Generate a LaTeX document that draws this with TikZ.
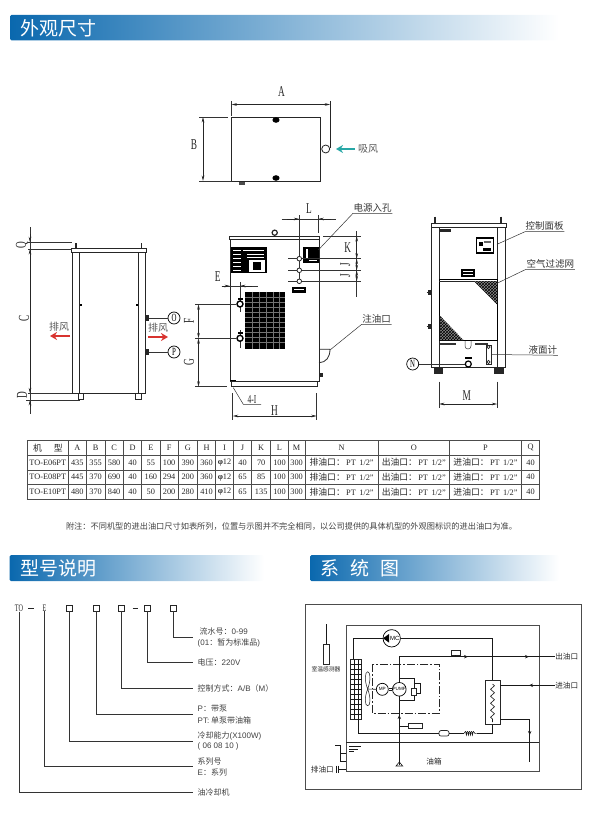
\documentclass[tikz,border=0pt]{standalone}
\usepackage{fontspec}
\setmainfont{Liberation Serif}
\newfontfamily\cjk{Noto Sans CJK SC}
\newfontfamily\lat{Liberation Sans}
\newfontfamily\dimfont[FakeStretch=0.62]{Liberation Serif}
\usetikzlibrary{shapes,arrows,arrows.meta,positioning,patterns,decorations.pathmorphing}
\definecolor{bannerblue}{HTML}{0A68AE}
\definecolor{bannermid}{HTML}{7CA3D3}
\definecolor{airred}{HTML}{D8332F}
\definecolor{airteal}{HTML}{27A7A6}
\newcommand{\cjksize}[1]{\cjk\fontsize{#1}{#1}\selectfont}
\newcommand{\portcell}[1]{{\cjksize{8.8}#1油口：}\,PT\hspace{3.5pt}1/2"}
\tikzset{%
part/.style={draw=black!85, line width=.8pt},
thickpart/.style={draw=black, line width=1.2pt},
dimthin/.style={draw=black!80, line width=.5pt},
dimline/.style={draw=black!85, line width=.6pt, <->, >={Stealth[length=5.5pt,width=2.6pt]}},
dimtip/.style={draw=black!85, line width=.6pt, ->, >={Stealth[length=5.5pt,width=2.6pt]}},
dimletter/.style={font=\dimfont\fontsize{15}{15}\selectfont, text=black!85, inner sep=0pt},
portmark/.style={circle, draw=black, line width=.7pt, minimum size=12pt, inner sep=0pt, font=\dimfont\fontsize{11}{11}\selectfont},
banner/.style={rounded corners=1.5pt, left color=bannerblue, middle color=bannermid, right color=white},
bannertext/.style={font=\cjksize{19}, text=white, anchor=west, inner sep=0pt},
callout/.style={font=\cjksize{9.5}, text=black!80, anchor=south west, inner xsep=.5pt, inner ysep=1pt},
wind/.style={font=\cjksize{10}, text=black!65, inner sep=0pt},
windarrow/.style={line width=2.4pt, ->, >={Stealth[length=7pt,width=8pt]}},
hatched/.style={preaction={fill=black!45}, pattern=crosshatch, pattern color=black},
tablerule/.style={draw=black!70, line width=1pt},
tablecell/.style={font=\fontsize{8.3}{9}\selectfont, text=black!85, inner sep=0pt},
codebox/.style={rectangle, draw=black!85, line width=.6pt, minimum size=6pt, inner sep=0pt},
codetext/.style={font=\dimfont\fontsize{10}{10}\selectfont, text=black!85, inner sep=0pt},
codeline/.style={draw=black!80, line width=.7pt},
codelabel/.style={font=\cjksize{8}, text=black!75, anchor=west, align=left, inner xsep=4.5pt, inner ysep=1pt},
pipe/.style={draw=black!90, line width=.6pt},
pipetip/.style={draw=black!90, line width=.6pt, ->, >={Stealth[length=4pt,width=3.4pt]}},
sysbox/.style={rectangle, draw=black!85, line width=.7pt, inner sep=0pt},
syscircle/.style={circle, draw=black, line width=.7pt, inner sep=0pt, fill=white, font=\lat\fontsize{4.6}{5}\selectfont},
syslabel/.style={font=\cjksize{7.6}, text=black!85, inner sep=0pt}
}

\begin{document}
\begin{tikzpicture}[x=1pt, y=-1pt]
	\useasboundingbox (0,0) rectangle (600,824);

	% section bars
	\shade[banner] (10,15) rectangle (559,40.5);
	\node[bannertext] (titleouter) at (20,28) {外观尺寸};
	\shade[banner] (9.5,555) rectangle (264,581);
	\node[bannertext] (titlecode) at (20,568) {型号说明};
	\shade[banner] (310,555) rectangle (559,581);
	\node[bannertext] (titlesystem) at (320,568) {系\hspace{11pt}统\hspace{11pt}图};

	% top view
	\draw[part] (231.5,117) rectangle (320.7,181);
	\fill (276,120) ellipse (3.6pt and 2.8pt);
	\fill (276,178) ellipse (3.6pt and 2.8pt);
	\fill[black!70] (239,182) rectangle (245,185);
	\draw[part] (325.7,149) circle (4pt);
	\draw[dimthin] (231.5,101) -- (231.5,116);
	\draw[part, line width=.6pt] (330.2,101) -- (330.2,148);
	\draw[dimline] (231.5,104.5) -- (330.2,104.5);
	\draw[dimthin] (199,117) -- (228,117);
	\draw[dimthin] (199,181) -- (231.5,181);
	\draw[dimline] (203,117) -- (203,181);
	\node[dimletter] (dimA) at (281.5,92) {A};
	\node[dimletter] (dimB) at (194,145) {B};
	\draw[windarrow, airteal] (355,149) -- (336,149);
	\node[wind] (windin) at (368,149) {吸风};

	% left view
	\draw[part] (72.7,251.7) rectangle (145.7,393.3);
	\draw[part, fill=white] (71.7,248.7) rectangle (146.5,252);
	\draw[part] (79.3,252) -- (79.3,393.3);
	\draw[part] (138.3,252) -- (138.3,393.3);
	\fill (80,304) rectangle (82,306);
	\fill (136,304) rectangle (138,306);
	\foreach \bx in {76,141.7}
		\draw[black!85, line width=1.4pt] (\bx,243) -- (\bx,248.7);
	\draw[part] (78.7,393.3) rectangle (83.5,399.5);
	\draw[part] (135,393.3) rectangle (141,399.5);
	\draw[dimthin] (30,227) -- (30,414);
	\draw[dimline] (30,249) -- (30,393.3);
	\draw[dimtip] (30,234) -- (30,242.3);
	\draw[dimtip] (30,407) -- (30,400);
	\draw[dimthin] (28,242.3) -- (72,242.3);
	\draw[dimthin] (28,249) -- (72,249);
	\draw[dimthin] (28,393.3) -- (72,393.3);
	\draw[dimthin] (26,400) -- (80,400);
	\node[dimletter, rotate=90] (dimQ) at (22,245) {Q};
	\node[dimletter, rotate=90] (dimC) at (24,318) {C};
	\node[dimletter, rotate=90] (dimD) at (22,395) {D};
	\node[wind] (windleft) at (59,327) {排风};
	\draw[windarrow, airred] (70,336) -- (50,336);
	\node[wind] (windright) at (158,328) {排风};
	\draw[windarrow, airred] (148,337) -- (168,337);
	\node[portmark] (portO) at (174,318) {O};
	\node[portmark] (portP) at (174,352) {P};
	\fill[black!85] (146,315) rectangle (149,320.5);
	\fill[black!85] (146,349) rectangle (149,354.5);
	\draw[dimthin] (149,318) -- (portO.west);
	\draw[dimthin] (149,352) -- (portP.west);

	% front view
	\draw[part, line width=1pt] (230,239) rectangle (319,381);
	\draw[part, fill=white] (229.7,236) rectangle (319.3,239.3);
	\draw[part, line width=.6pt] (231.7,381) rectangle (317.7,386.7);
	\draw[black, line width=1.4pt] (230,380.7) -- (236,380.7);
	\draw[part, line width=1.2pt] (274.7,232.7) circle (2.6pt);
	\fill[black] (231,247.3) rectangle (266.7,273.3);
	\foreach \ly in {250,254,258,262,266,270}
		\draw[white, line width=.7pt] (233,\ly) -- (241,\ly);
	\draw[white, line width=.7pt] (243,250) -- (264,250);
	\draw[white, line width=.7pt] (247,254) -- (264,254);
	\draw[white, line width=.7pt] (247,257) -- (264,257);
	\fill[white] (249,260) rectangle (265,272);
	\fill[black] (253,262) rectangle (261,270);
	\fill[black] (245,291.7) rectangle (285,349);
	\foreach \gx in {252,259,266,273,279}
		\draw[black!55, line width=.3pt] (\gx,291.7) -- (\gx,349);
	\foreach \gy in {297,302,307,312,317,322,327,332,337,342}
		\draw[black!55, line width=.3pt] (245,\gy) -- (285,\gy);
	\fill[black] (303.3,246.7) rectangle (319,263.3);
	\fill[white] (306,249) rectangle (308,259);
	\draw[white, line width=.4pt] (309,260) -- (317,260);
	\fill[black] (292.3,286.7) rectangle (306,293.3);
	\draw[white, line width=.4pt] (294,289.5) -- (304,289.5);
	\draw[dimthin] (299.3,215) -- (299.3,283);
	\foreach \hy in {258.7,270.3,281.3} {
		\draw[dimthin] (288,\hy) -- (361,\hy);
		\draw[part, fill=white] (299.3,\hy) circle (2.3pt);
	}
	\draw[dimthin] (323,236) -- (361,236);
	\draw[dimthin] (356.7,231) -- (356.7,296.7);
	\draw[dimline] (356.7,236) -- (356.7,258.7);
	\draw[dimline] (356.7,258.7) -- (356.7,270.3);
	\draw[dimline] (356.7,270.3) -- (356.7,281.3);
	\node[dimletter] (dimK) at (347.7,247.7) {K};
	\node[dimletter, rotate=90] (dimJa) at (345.3,264.5) {J};
	\node[dimletter, rotate=90] (dimJb) at (345.3,276) {J};
	\draw[dimthin] (318.3,215) -- (318.3,233);
	\draw[dimthin] (281.7,219) -- (336,219);
	\draw[dimtip] (287,219) -- (299.3,219);
	\draw[dimtip] (331,219) -- (318.3,219);
	\node[dimletter] (dimL) at (309,209) {L};
	\node[callout] (lblpower) at (353,213.3) {电源入孔};
	\coordinate (powerbox) at (318.3,250);
	\draw[dimthin] (powerbox) -- (lblpower.south west) -- (lblpower.south east);
	\foreach \py/\pa/\pb in {304/282/311.7, 338.3/330/348} {
		\draw[dimthin] (240,\pa) -- (240,\pb);
		\draw[black, line width=1.4pt, fill=white] (240,\py) circle (3pt);
		\fill[black] (237.5,\py-6) rectangle (242.5,\py-4);
	}
	\draw[dimthin] (221.7,286) -- (258.3,286);
	\draw[dimtip] (221.7,286) -- (230,286);
	\draw[dimtip] (252,286) -- (240,286);
	\node[dimletter] (dimE) at (217.7,277) {E};
	\draw[dimthin] (195,304.3) -- (236,304.3);
	\draw[dimthin] (195,338.3) -- (236,338.3);
	\draw[dimthin] (195,386.7) -- (226.6,386.7);
	\draw[dimline] (198.5,304.3) -- (198.5,338.3);
	\draw[dimline] (198.5,338.3) -- (198.5,386.7);
	\node[dimletter, rotate=90] (dimF) at (189,321) {F};
	\node[dimletter, rotate=90] (dimG) at (189,362) {G};
	\draw[part] (319,349.3) -- (330,349.3) .. controls (330,357) and (326,362.7) .. (319,362.7);
	\fill[black!85] (319,373) rectangle (323,377);
	\node[callout] (lblfill) at (361.7,324.3) {注油口};
	\coordinate (fillcap) at (330,350);
	\draw[dimthin] (fillcap) -- (lblfill.south west) -- (lblfill.south east);
	\draw[dimthin] (233.3,387.7) -- (243.3,404.3) -- (261,404.3);
	\node[dimletter, anchor=south, font=\dimfont\fontsize{12}{12}\selectfont] (dimI) at (252,403.5) {4-I};
	\draw[dimthin] (232.7,393) -- (232.7,420);
	\draw[dimthin] (316.7,393) -- (316.7,420);
	\draw[dimline] (232.7,416) -- (316.7,416);
	\node[dimletter] (dimH) at (274.5,411) {H};

	% rear view
	\draw[part] (431.7,227.3) rectangle (505,367.7);
	\draw[part, fill=white] (431,223.3) rectangle (506,227.3);
	\draw[part] (439,227.3) -- (439,367.7);
	\draw[part] (497.3,227.3) -- (497.3,367.7);
	\foreach \bx in {435,501}
		\draw[black!85, line width=1.4pt] (\bx,216.5) -- (\bx,223.3);
	\fill[black!85] (434.3,368) rectangle (443.3,374);
	\fill[black!85] (494,368) rectangle (503.7,374);
	\fill[black!85] (440,228.5) rectangle (451,232);
	\draw[thickpart] (476.5,238) rectangle (493.7,253);
	\fill[black] (479,242) rectangle (483,246);
	\fill[black!60] (484,241) rectangle (491,243);
	\fill[black] (483,248) rectangle (491,250.5);
	\node[callout] (lblpanel) at (525,231.7) {控制面板};
	\coordinate (panelside) at (497,244.3);
	\draw[dimthin] (panelside) -- (lblpanel.south west) -- (lblpanel.south east);
	\fill[black] (461,269.3) rectangle (475,276.7);
	\draw[white, line width=.5pt] (463,271) -- (473,271) (463,274.5) -- (473,274.5);
	\draw[thickpart] (439.3,279.5) rectangle (497.3,340.7);
	\draw[part] (439.3,281) -- (497.3,281);
	\path[hatched] (474,281) -- (497,281) -- (497,304.3) -- cycle;
	\path[hatched] (439.8,315.7) -- (439.8,340) -- (463.3,340) -- cycle;
	\node[callout] (lblfilter) at (526,269.3) {空气过滤网};
	\coordinate (filterside) at (497,283.3);
	\draw[dimthin] (filterside) -- (lblfilter.south west) -- (lblfilter.south east);
	\foreach \fy in {292.3,326} {
		\fill[black!85] (428,\fy-2.5) rectangle (431.7,\fy+2.5);
		\draw[black!85] (426.5,\fy) -- (428,\fy);
	}
	\fill[black!80] (440,342.5) rectangle (456,344.5);
	\fill[black!80] (475,342.5) rectangle (488,344.5);
	\draw[dimthin] (465,341) -- (465,346) .. controls (465,350) and (471,350) .. (471,346) -- (471,341);
	\node[sysbox, minimum width=5pt, minimum height=19pt] (gauge) at (488.5,354.5) {};
	\draw[part, line width=.6pt, fill=white] (488.5,347) circle (1.6pt);
	\draw[part, line width=.6pt, fill=white] (488.5,362) circle (1.6pt);
	\node[callout] (lblgauge) at (528,355.3) {液面计};
	\draw[dimthin] (gauge.east) -- (lblgauge.south east);
	\draw[black, line width=1.2pt, fill=white] (468.3,364) circle (3pt);
	\fill[black] (465,356.5) rectangle (471.5,358.5);
	\node[portmark] (portN) at (412.7,364) {N};
	\draw[dimthin] (portN.east) -- (465,364);
	\draw[dimthin] (439,381.7) -- (439,408);
	\draw[dimthin] (497.3,381.7) -- (497.3,408);
	\draw[dimline] (439,404) -- (497.3,404);
	\node[dimletter] (dimM) at (466.7,396) {M};

	% table
	\def\colcenter{{47.8,77.3,95.65,114.15,132.5,150.85,169.15,187.8,206.5,224.5,242.5,261.2,279.5,296.65,341.65,413.8,485.5,530.5}}
	\foreach \gx in {27.3,68.3,86.3,105,123.3,141.7,160,178.3,197.3,215.7,233.3,251.7,270.7,288.3,305,378.3,449.3,521.7,539.3}
		\draw[tablerule] (\gx,440.7) -- (\gx,499);
	\foreach \gy in {440.7,455,470,484.3,499}
		\draw[tablerule] (26.8,\gy) -- (539.8,\gy);
	\foreach \rowy/\rowcells [count=\rownum] in {
		447.8/{{\cjksize{8.8}机\hspace{12pt}型},A,B,C,D,E,F,G,H,I,J,K,L,M,N,O,P,Q},
		462.5/{TO-E06PT,435,355,580,40,55,100,390,360,\textbf{φ}12,40,70,100,300,\portcell{排},\portcell{出},\portcell{进},40},
		477.2/{TO-E08PT,445,370,690,40,160,294,200,360,\textbf{φ}12,65,85,100,300,\portcell{排},\portcell{出},\portcell{进},40},
		491.7/{TO-E10PT,480,370,840,40,50,200,280,410,\textbf{φ}12,65,135,100,300,\portcell{排},\portcell{出},\portcell{进},40}} {
		\foreach \celltext [count=\col] in \rowcells {
			\pgfmathparse{\colcenter[\col-1]}
			\node[tablecell] (cell\rownum-\col) at (\pgfmathresult,\rowy) {\celltext};
		}
	}
	\node[font=\cjksize{8.2}, text=black!75, inner sep=0pt] (tablenote) at (291.5,526.7) {附注：不同机型的进出油口尺寸如表所列，位置与示图并不完全相同，以公司提供的具体机型的外观图标识的进出油口为准。};

	% model code
	\node[codetext] (codeto) at (19,608) {TO};
	\node[codetext] (codee) at (44.5,608) {E};
	\node[codebox] (boxcool) at (69.7,608) {};
	\node[codebox] (boxpump) at (96,608) {};
	\node[codebox] (boxctrl) at (121.7,608) {};
	\node[codebox] (boxvolt) at (147.3,608) {};
	\node[codebox] (boxserial) at (173,608) {};
	\draw[black!85, line width=.8pt] (28,608) -- (34,608);
	\draw[black!85, line width=.8pt] (132.5,608) -- (138,608);
	\node[codelabel] (lblserial) at (193,637.3) {\hspace{2pt}流水号：{\lat 0-99}\\[2.8pt]{\lat (01}：暂为标准品{\lat )}};
	\node[codelabel] (lblvolt) at (193,662.7) {电压：{\lat 220V}};
	\node[codelabel] (lblctrl) at (193,688.3) {控制方式：{\lat A/B}（{\lat M}）};
	\node[codelabel] (lblpump) at (193,714.6) {{\lat P}：带泵\\[3.6pt]{\lat PT:} 单泵带油箱};
	\node[codelabel] (lblcool) at (193,741) {冷却能力{\lat (X100W)}\\[1.6pt]{\lat ( 06 08 10 )}};
	\node[codelabel] (lblseries) at (193,766.8) {系列号\\[2.6pt]{\lat E}：系列};
	\node[codelabel] (lbloil) at (193,792.3) {油冷却机};
	\draw[codeline] (boxserial.south) |- (lblserial.west);
	\draw[codeline] (boxvolt.south) |- (lblvolt.west);
	\draw[codeline] (boxctrl.south) |- (lblctrl.west);
	\draw[codeline] (boxpump.south) |- (lblpump.west);
	\draw[codeline] (boxcool.south) |- (lblcool.west);
	\draw[codeline] (codee.south) |- (lblseries.west);
	\draw[codeline] (codeto.south) |- (lbloil.west);

	% system diagram
	\draw[draw=black!70, line width=.8pt] (305,604.3) rectangle (581.7,789.3);
	\draw[draw=black!70, line width=.9pt] (346,625) rectangle (539,771.7);
	\draw[draw=black!85, line width=.7pt] (346,742.3) -- (539,742.3);
	\node[sysbox, minimum width=6pt, minimum height=20pt] (sensor) at (326.3,654.3) {};
	\coordinate (sensortop) at (326.3,624.3);
	\draw[pipe] (sensortop) -- (sensor.north);
	\node[font=\cjksize{5.8}, text=black!85, inner sep=0pt] (lblsensor) at (326,669.5) {室温感测器};
	\node[sysbox, minimum width=11pt, minimum height=60pt] (condenser) at (356.2,689) {};
	\foreach \gy in {664,669,674,679,684,689,694,699,704,709,714}
		\draw[pipe, line width=.4pt] (350.7,\gy) -- (361.7,\gy);
	\draw[pipe, line width=.4pt] (354.5,659) -- (354.5,719);
	\draw[pipe, line width=.4pt] (358.3,659) -- (358.3,719);
	\node[syscircle, minimum size=17.4pt, font=\lat\fontsize{6}{6}\selectfont] (mc) at (391.7,638.3) {\hspace{6pt}MC};
	\fill[black] (383,638.3) -- (389,634) -- (389,642.6) -- cycle;
	\node[sysbox, minimum width=15pt, minimum height=43.6pt] (exchanger) at (492.5,702.5) {};
	\draw[pipe, decorate, decoration={zigzag, segment length=7pt, amplitude=2pt}] (492.5,684) -- (492.5,722);
	\draw[pipe] (mc.west) -| ([xshift=-3pt]condenser.north);
	\draw[pipe] (mc.east) -| (exchanger.north);
	\node[sysbox, rounded corners=2pt, minimum width=10pt, minimum height=5.5pt] (drier) at (444,733.3) {};
	\coordinate (coilin) at (464,733.3);
	\coordinate (coilout) at (476.7,733.3);
	\draw[pipe] ([xshift=2pt]condenser.south) |- (drier.west);
	\draw[pipe] (drier.east) -- (coilin);
	\draw[pipe, decorate, decoration={coil, segment length=2pt, amplitude=1.8pt, aspect=.5}] (coilin) -- (coilout);
	\draw[pipe] (coilout) -| (exchanger.south);
	\draw[draw=black!85, line width=.8pt, dash pattern=on 8pt off 2pt on 1.5pt off 2pt] (372.7,664.3) rectangle (439.3,713.3);
	\node[syscircle, minimum size=12pt] (motor) at (382.3,689.3) {MP};
	\node[syscircle, minimum size=12pt] (pump) at (399.3,689.3) {PUMP};
	\draw[pipe] ([yshift=1pt]motor.east) -- ([yshift=1pt]pump.west);
	\draw[pipe] ([yshift=-1pt]motor.east) -- ([yshift=-1pt]pump.west);
	\coordinate (fanhub) at (367.7,689);
	\draw[pipe, line width=.5pt] (fanhub) .. controls (364,680) and (365,672) .. (367.7,671.7) .. controls (370.5,672) and (371,680) .. (fanhub);
	\draw[pipe, line width=.5pt] (fanhub) .. controls (364,698) and (365,706) .. (367.7,705.7) .. controls (370.5,706) and (371,698) .. (fanhub);
	\draw[pipe] (fanhub) -- (motor.west);
	\node[sysbox, minimum width=5.7pt, minimum height=7.4pt] (relief) at (413.8,692) {};
	\draw[pipe] (pump.north) |- (413.8,678.3) -- (relief.north);
	\draw[pipe] (relief.south) |- (399.3,700);
	\draw[pipe] (413.8,683.3) -- (420.7,683.3) -- (420.7,693.3) -- (416.7,693.3);
	\node[syslabel] (lbloilout) at (566.7,656.7) {出油口};
	\node[syslabel] (lbloilin) at (566.7,685.3) {进油口};
	\node[syslabel] (lbltank) at (434,761.7) {油箱};
	\node[syslabel] (lbldrain) at (322.3,769.3) {排油口};
	\draw[pipe] (pump.north) |- (lbloilout.west);
	\draw[pipe] (lbloilin.west) -- (500,685.3);
	\draw[pipetip] (463,656.7) -- (468,656.7);
	\draw[pipetip] (524,656.7) -- (529,656.7);
	\draw[pipetip] (534,685.3) -- (529,685.3);
	\node[sysbox, minimum width=9pt, minimum height=5pt] (switch) at (455.5,652.5) {};
	\draw[pipe] (switch.south) -- (455.5,656.7);
	\coordinate (strainer) at (399.3,765);
	\draw[pipe] (pump.south) -- (strainer);
	\draw[pipe] (396,766) -- (399.3,762) -- (402.7,766) -- cycle;
	\draw[pipetip] (399.3,720) -- (399.3,715);
	\node[sysbox, minimum width=14pt, minimum height=5pt] (gaugebox) at (415.3,726.3) {};
	\draw[pipe] (399.3,726.3) -- (gaugebox.west);
	\coordinate (returnend) at (529.7,761.7);
	\draw[pipe] (500,719.3) -| (returnend);
	\draw[pipetip] (529.7,730) -- (529.7,735);
	\draw[pipe] (349.3,746.7) -- (360.7,746.7);
	\draw[pipe] (349.3,749) -- (357.5,749);
	\draw[pipe] (349.3,751.5) -- (354,751.5);
	\draw[pipe] (335,745.7) -- (340,745.7) -- (340,761) -- (346,761);
	\draw[pipe] (340,753.3) -- (346,753.3);
	\draw[pipe] (336,765.5) -- (336,773);
	\draw[pipe] (338.5,765.5) -- (338.5,773);
	\draw[pipe] (338.5,769.3) -- (346,769.3);
\end{tikzpicture}
\end{document}
